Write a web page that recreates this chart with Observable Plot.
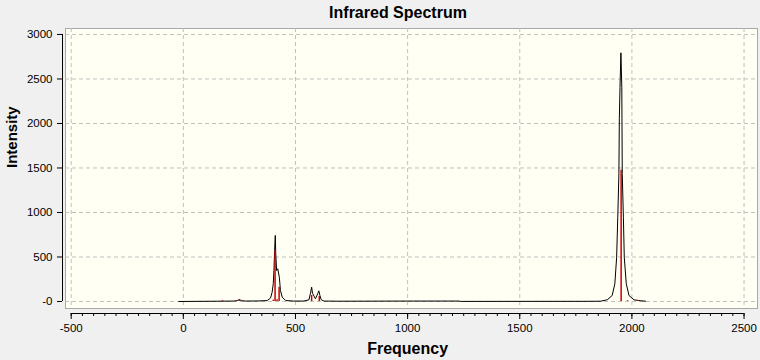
<!DOCTYPE html>
<html>
<head>
<meta charset="utf-8">
<script src="https://cdn.jsdelivr.net/npm/d3@7"></script>
<script src="https://cdn.jsdelivr.net/npm/@observablehq/plot@0.6"></script>
<style>
  html, body { margin: 0; padding: 0; background: #f0f0f0; }
  #wrap { width: 760px; height: 360px; background: #f0f0f0; position: relative; overflow: hidden; font-family: "Liberation Sans", Arial, sans-serif; }
  #title { height: 26px; line-height: 26px; font-size: 16px; font-weight: bold; text-align: center; padding-left: 36px; box-sizing: border-box; width: 760px; color: #000; }
</style>
</head>
<body>
<div id="wrap">
  <div id="title"></div>
  <div id="chart"></div>
</div>
<script>
const title = "Infrared Spectrum";
const xLabel = "Frequency";
const yLabel = "Intensity";

// Broadened spectrum (black curve)
const curveFreq = [-20, 150, 225, 240, 250, 258, 275, 330, 374, 389, 396, 401, 404, 407, 410, 412, 416, 421, 428, 433, 441, 456, 491, 537, 560, 567, 572, 576, 589, 600, 604, 609, 615, 627, 700, 1000, 1230, 1235, 1800, 1860, 1890, 1912, 1924, 1932, 1937, 1942, 1944, 1947, 1951, 1955, 1957, 1962, 1966, 1975, 1987, 2009, 2040, 2061];
const curveInt  = [0, 3, 5, 10, 22, 10, 5, 6, 10, 40, 105, 200, 348, 573, 742, 540, 348, 367, 273, 124, 49, 11, 5, 5, 19, 93, 161, 93, 30, 93, 120, 67, 19, 5, 3, 5, 5, 1, 2, 3, 19, 67, 199, 498, 947, 1435, 2053, 2408, 2794, 2408, 1438, 947, 498, 199, 67, 19, 8, 3];

// Stick spectrum (red lines)
const stickFreq = [175, 250, 401, 409, 418, 427, 572, 606, 1952, 1981, 2030];
const stickInt  = [8, 20, 15, 573, 20, 161, 67, 56, 1475, 8, 8];

// Axis ticks
const xTicks = [-500, 0, 500, 1000, 1500, 2000, 2500];
const xMinorTicks = d3.range(-500, 2501, 50);
const yTicks = [0, 500, 1000, 1500, 2000, 2500, 3000];
const yTickLabels = ["-0", "500", "1000", "1500", "2000", "2500", "3000"];

document.getElementById("title").textContent = title;

const xDomain = [-525.4, 2560];
const yDomain = [-78.7, 3067];
const curveIdx = d3.range(curveFreq.length);
const stickIdx = d3.range(stickFreq.length);
const grid = "#c0c0c0";

const chart = Plot.plot({
  width: 760,
  height: 334,
  marginTop: 2,
  marginBottom: 52,
  marginLeft: 65,
  marginRight: 3,
  style: { background: "transparent", fontFamily: "'Liberation Sans', Arial, sans-serif", fontSize: "11.5px", color: "#000", overflow: "visible" },
  x: { domain: xDomain, label: null },
  y: { domain: yDomain, label: null },
  marks: [
    Plot.frame({ fill: "#fffff4", stroke: "#a8a8a8" }),
    Plot.gridX(xTicks, { stroke: grid, strokeOpacity: 1, strokeDasharray: "4,3" }),
    Plot.gridY(yTicks, { stroke: grid, strokeOpacity: 1, strokeDasharray: "4,3" }),
    Plot.line(curveIdx, { x: i => curveFreq[i], y: i => curveInt[i], stroke: "#000", strokeWidth: 1 }),
    Plot.ruleX(stickIdx, { x: i => stickFreq[i], y1: 0, y2: i => stickInt[i], stroke: "#c80000", strokeWidth: 1.5 }),
    // x axis (offset below frame)
    Plot.ruleY([yDomain[0]], { x1: xTicks[0], x2: xTicks[xTicks.length - 1], dy: 5, stroke: "#000" }),
    Plot.axisX(xMinorTicks, { anchor: "bottom", tickSize: 3, dy: 5, fill: "none", stroke: "#000", label: null }),
    Plot.axisX(xTicks, { anchor: "bottom", tickSize: 6, tickPadding: 4, dy: 5, stroke: "#000", fill: "#000", fontSize: 11.5, label: null, tickFormat: d => String(d) }),
    // y axis
    Plot.ruleX([xDomain[0]], { y1: yTicks[0], y2: yTicks[yTicks.length - 1], dx: -3, stroke: "#000" }),
    Plot.axisY(yTicks, { anchor: "left", tickSize: 5, tickPadding: 5, dx: -3, stroke: "#000", fill: "#000", fontSize: 11.5, label: null, tickFormat: d => yTickLabels[yTicks.indexOf(d)] }),
    // axis titles
    Plot.text([xLabel], { x: (xTicks[0] + xTicks[xTicks.length - 1]) / 2, frameAnchor: "bottom", dy: 40, text: d => d, fontSize: 16, fontWeight: "bold", fill: "#000", lineAnchor: "middle" }),
    Plot.text([yLabel], { y: (yTicks[0] + yTicks[yTicks.length - 1]) / 2, frameAnchor: "left", dx: -53, rotate: -90, text: d => d, fontSize: 15, fontWeight: "bold", fill: "#000", lineAnchor: "middle" })
  ]
});
document.getElementById("chart").appendChild(chart);
</script>
</body>
</html>
